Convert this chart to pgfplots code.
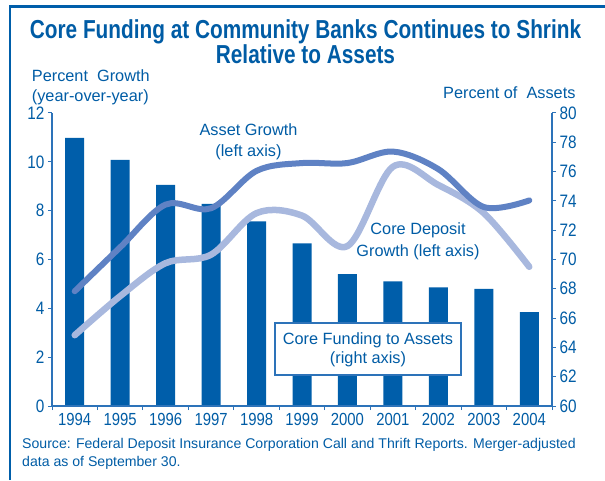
\documentclass[border=0pt]{standalone}
\usepackage{pgfplots}
\pgfplotsset{compat=1.18}
\usepackage{fontspec}
\setmainfont{Liberation Sans}
\newfontfamily\condf[FakeStretch=0.85]{Liberation Sans}
\newfontfamily\titlef[FakeStretch=0.8]{Liberation Sans Bold}
\definecolor{textblue}{RGB}{0,92,165}
\definecolor{barblue}{RGB}{0,94,170}
\definecolor{axisblue}{RGB}{45,115,185}
\definecolor{darkline}{RGB}{95,130,196}
\definecolor{lightline}{RGB}{168,184,222}
\begin{document}
\begin{tikzpicture}[x=1pt,y=1pt]
\useasboundingbox (0,0) rectangle (605,480);
\draw[barblue, line width=2.5pt] (10,0) -- (10,473.5) -- (605,473.5);
% bars on right axis
\begin{axis}[
  at={(52pt,74pt)}, anchor=south west, scale only axis,
  width=500pt, height=293pt,
  xmin=-0.5, xmax=10.5, ymin=60, ymax=80,
  axis x line=none, axis y line*=right,
  ytick={60,62,...,80},
  tick align=outside, major tick length=4pt,
  axis line style={axisblue, line width=1.2pt},
  tick style={axisblue, line width=1pt},
  yticklabel style={font=\condf\fontsize{18}{18}\selectfont, text=textblue},
  /pgf/number format/assume math mode=true,
  ybar, bar width=19pt,
]
\addplot[fill=barblue, draw=none] coordinates {
(0,78.3) (1,76.8) (2,75.1) (3,73.8) (4,72.6) (5,71.1) (6,69.0) (7,68.5) (8,68.1) (9,68.0) (10,66.4)};
\end{axis}
% lines on left axis
\begin{axis}[
  at={(52pt,74pt)}, anchor=south west, scale only axis,
  width=500pt, height=293pt,
  xmin=-0.5, xmax=10.5, ymin=0, ymax=12,
  axis y line*=left, axis x line*=bottom,
  xtick={0,...,10},
  xticklabels={1994,1995,1996,1997,1998,1999,2000,2001,2002,2003,2004},
  major x tick style={draw=none},
  minor xtick={-0.5,0.5,...,10.5},
  minor tick length=4pt,
  ytick={0,2,...,12},
  tick align=outside, major tick length=4pt,
  axis line style={axisblue, line width=1.2pt},
  tick style={axisblue, line width=1pt},
  yticklabel style={font=\condf\fontsize{18}{18}\selectfont, text=textblue},
  xticklabel style={font=\condf\fontsize{17.5}{17.5}\selectfont, text=textblue},
  /pgf/number format/assume math mode=true,
]
\addplot[smooth, tension=0.55, line width=6.5pt, color=lightline, line cap=round] coordinates {
(0,2.9) (1,4.5) (2,5.85) (3,6.2) (4,7.9) (5,7.8) (6,6.55) (7,9.8) (8,9.05) (9,7.9) (10,5.7)};
\addplot[smooth, tension=0.55, line width=6pt, color=darkline, line cap=round] coordinates {
(0,4.7) (1,6.5) (2,8.25) (3,8.1) (4,9.63) (5,9.95) (6,9.95) (7,10.42) (8,9.7) (9,8.15) (10,8.42)};
\end{axis}
% annotations
\node[anchor=base, text=textblue, font=\fontsize{16.3}{16.3}\selectfont] at (248.5,344) {Asset Growth};
\node[anchor=base, text=textblue, font=\fontsize{16.3}{16.3}\selectfont] at (248.5,323) {(left axis)};
\node[anchor=base, text=textblue, font=\fontsize{16.3}{16.3}\selectfont] at (418,245) {Core Deposit};
\node[anchor=base, text=textblue, font=\fontsize{16.3}{16.3}\selectfont] at (418,224) {Growth (left axis)};
\draw[axisblue, line width=1.3pt, fill=white] (275,105) rectangle (461,157);
\node[anchor=base, text=textblue, font=\fontsize{16.3}{16.3}\selectfont] at (368,136) {Core Funding to Assets};
\node[anchor=base, text=textblue, font=\fontsize{16.3}{16.3}\selectfont] at (368,117) {(right axis)};
% titles
\node[anchor=base, text=textblue, font=\titlef\fontsize{26}{26}\selectfont] at (305.5,441.7) {Core Funding at Community Banks Continues to Shrink};
\node[anchor=base, text=textblue, font=\titlef\fontsize{26}{26}\selectfont] at (305.5,416.7) {Relative to Assets};
\node[anchor=base west, text=textblue, font=\fontsize{16.3}{16.3}\selectfont, inner sep=0pt] at (31.7,398.3) {Percent\ \ Growth};
\node[anchor=base west, text=textblue, font=\fontsize{16.3}{16.3}\selectfont, inner sep=0pt] at (31.7,378) {(year-over-year)};
\node[anchor=base east, text=textblue, font=\fontsize{16.3}{16.3}\selectfont, inner sep=0pt] at (575.7,381.7) {Percent of\ \ Assets};
\node[anchor=base west, text=textblue, font=\fontsize{14.1}{14.1}\selectfont, inner sep=0pt] at (22,31.7) {Source: Federal Deposit Insurance Corporation Call and Thrift Reports. Merger-adjusted};
\node[anchor=base west, text=textblue, font=\fontsize{14.1}{14.1}\selectfont, inner sep=0pt] at (22,13.3) {data as of September 30.};
\end{tikzpicture}
\end{document}
